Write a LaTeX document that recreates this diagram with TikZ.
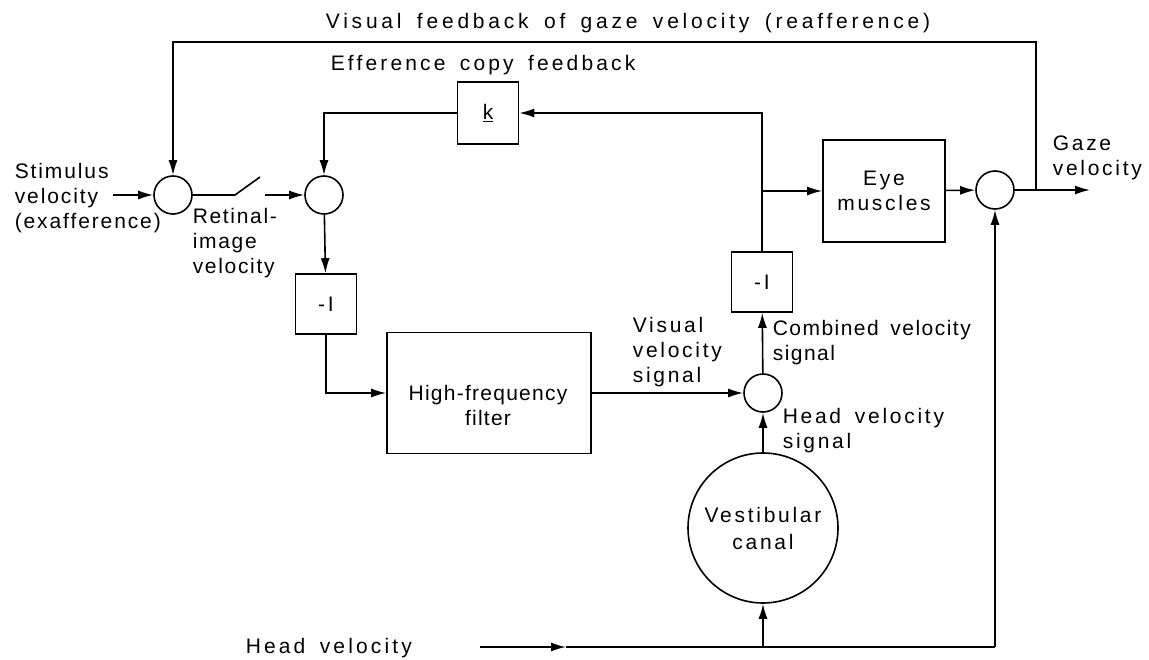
\documentclass[tikz,border=0pt]{standalone}
\usepackage{fontspec}
\setmainfont{Liberation Sans}[LetterSpace=13, WordSpace=1.6]
\usepackage{tikz}
\usetikzlibrary{arrows.meta,positioning,calc}

\newcommand{\lsp}[1]{\addfontfeature{LetterSpace=#1}}

\begin{document}
\begin{tikzpicture}[x=1pt, y=-1pt, line width=1.6pt,
    font=\fontsize{21}{25}\selectfont,
    >={Latex[length=15pt,width=9pt]},
    sumpt/.style={draw, circle, minimum size=38pt, inner sep=0pt},
    gainbox/.style={draw, rectangle, minimum width=61pt, minimum height=60pt, inner sep=0pt},
    lbl/.style={align=left, inner sep=0pt}]
  \useasboundingbox (0,0) rectangle (1149,660);

  % summing points and blocks
  \node[sumpt] (sumA) at (173,195) {};
  \node[sumpt] (sumB) at (324,195) {};
  \node[sumpt] (sumC) at (763,393) {};
  \node[sumpt] (sumD) at (995,190) {};
  \node[gainbox] (gainA) at (326,304) {-I};
  \node[gainbox] (gainB) at (762,282) {-I};
  \node[gainbox, minimum height=62pt] (gainK) at (488,113) {\underline{k}};
  \node[draw, minimum width=204pt, minimum height=121pt] (filter) at (489,393) {};
  \node[align=center, inner sep=0pt] (filtertxt) at (488,405) {\lsp{6}High-frequency\\\lsp{6}filter};
  \node[draw, minimum width=122pt, minimum height=102pt, align=center] (eye) at (884,191) {Eye\\muscles};
  \node[draw, circle, minimum size=150pt, align=center, inner sep=0pt] (vest) at (763,528) {Vestibular\\[2pt]canal};

  % labels
  \node[lbl, anchor=west, font=\fontsize{21}{25}\selectfont\lsp{9}] (stim) at (14,198) {Stimulus\\velocity\\(exafference)};
  \node[lbl, anchor=west, font=\fontsize{21}{25}\selectfont\lsp{8}] (retina) at (192,243) {Retinal-\\image\\velocity};
  \node[lbl, anchor=west] (visvel) at (632,352) {Visual\\velocity\\signal};
  \node[lbl, anchor=west, font=\fontsize{21}{25}\selectfont\lsp{7}] (combo) at (772,343) {Combined velocity\\signal};
  \node[lbl, anchor=west] (headsig) at (782,431) {Head velocity\\signal};
  \node[lbl, anchor=west] (gaze) at (1052,158) {Gaze\\velocity};
  \node[lbl, anchor=west, font=\fontsize{21}{25}\selectfont\lsp{15}] (effcopy) at (330,65) {Efference copy feedback};
  \node[lbl, font=\fontsize{21}{25}\selectfont\lsp{18}] (reaff) at (628,23) {Visual feedback of gaze velocity (reafference)};
  \node[lbl, anchor=west, font=\fontsize{21}{25}\selectfont\lsp{15}] (headvel) at (245,648) {Head velocity};

  % helper points
  \coordinate (stimin) at (113,195);
  \coordinate (swA) at (235,195);
  \coordinate (swB) at (260,177);
  \coordinate (swC) at (265,195);
  \coordinate (eyebr) at (762,191);
  \coordinate (gazebr) at (1036,190);
  \coordinate (gazeout) at (1090,190);
  \coordinate (hvin) at (480,647);
  \coordinate (hvmid) at (566,647);

  % forward path
  \draw[->] (stimin) -- (sumA);
  \draw (sumA) -- (swA) -- (swB);
  \draw[->] (swC) -- (sumB);
  \draw[->] (sumB) -- (gainA);
  \draw[->] (gainA.south) |- (filter.west);
  \draw[->] (filter.east) -- (sumC);
  \draw[->] (vest) -- (sumC);
  \draw[->] (sumC) -- (gainB);
  \draw[->] (eyebr) -- (eye);
  \draw[->] (eye) -- (sumD);
  \draw[->] (sumD) -- (gazeout);

  % feedback loops
  \draw[->] (gainB.north) |- (gainK.east);
  \draw[->] (gainK.west) -| (sumB.north);
  \draw[->] (gazebr) |- (173,42) -- (sumA.north);

  % head velocity
  \draw[->] (hvin) -- (hvmid);
  \draw (hvmid) -| (sumD.south |- hvin);
  \draw[->] (vest.south |- hvin) -- (vest.south);
  \draw[->] (sumD.south |- hvin) -- (sumD.south);
\end{tikzpicture}
\end{document}
